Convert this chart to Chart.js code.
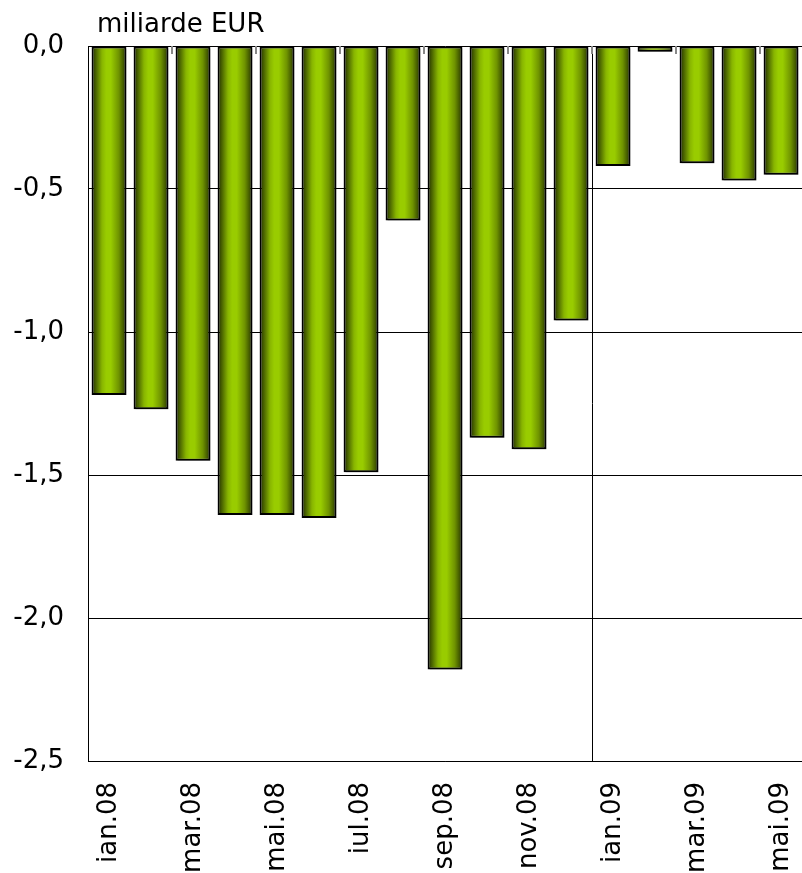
<!DOCTYPE html>
<html>
<head>
<meta charset="utf-8">
<script src="https://cdn.jsdelivr.net/npm/chart.js@4"></script>
<style>
  html, body { margin: 0; padding: 0; background: #fff; }
  #wrap { width: 802px; height: 873px; }
</style>
</head>
<body>
<div id="wrap"><canvas id="myChart" width="802" height="873"></canvas></div>
<script>
// date
const months = ["ian.08", "feb.08", "mar.08", "apr.08", "mai.08", "iun.08", "iul.08", "aug.08",
  "sep.08", "oct.08", "nov.08", "dec.08", "ian.09", "feb.09", "mar.09", "apr.09", "mai.09"];
const balance = [-1.22, -1.27, -1.45, -1.64, -1.64, -1.65, -1.49, -0.61,
  -2.18, -1.37, -1.41, -0.96, -0.42, -0.02, -0.41, -0.47, -0.45];
const yMin = -2.5;
const yMax = 0;
const yStep = 0.5;
const unitLabel = "miliarde EUR";

const FONT = "'DejaVu Sans', sans-serif";
const BAR_PCT = 0.83;

// gradient pe fiecare bara, de la stanga la dreapta
function barGradient(c) {
  const chart = c.chart;
  const xs = chart.scales.x;
  if (!xs || !chart.chartArea) return "#99cc00";
  const cx = xs.getPixelForValue(c.dataIndex);
  const w = (xs.width / months.length) * BAR_PCT;
  const g = chart.ctx.createLinearGradient(cx - w / 2, 0, cx + w / 2, 0);
  g.addColorStop(0, "#1a2400");
  g.addColorStop(0.08, "#3a4f00");
  g.addColorStop(0.3, "#88b500");
  g.addColorStop(0.42, "#99cc00");
  g.addColorStop(0.55, "#99cc00");
  g.addColorStop(0.78, "#6f9300");
  g.addColorStop(0.93, "#3d5200");
  g.addColorStop(1, "#1f2a00");
  return g;
}

// eticheta unitatii, umbra barelor, liniutele de sus
const extras = {
  id: "extras",
  beforeDatasetsDraw(chart) {
    const ctx = chart.ctx;
    ctx.save();
    ctx.shadowColor = "rgba(0,0,0,0.3)";
    ctx.shadowOffsetX = 2;
    ctx.shadowOffsetY = 2;
    ctx.shadowBlur = 0;
  },
  afterDatasetsDraw(chart) {
    const ctx = chart.ctx;
    ctx.restore();
    const xs = chart.scales.x;
    const half = xs.width / months.length / 2;
    ctx.save();
    ctx.strokeStyle = "#888";
    ctx.lineWidth = 2;
    for (let i = 2; i < months.length; i += 2) {
      const x = Math.round(xs.getPixelForValue(i) - half);
      ctx.beginPath();
      ctx.moveTo(x, chart.chartArea.top);
      ctx.lineTo(x, chart.chartArea.top + 8);
      ctx.stroke();
    }
    ctx.restore();
  },
  afterDraw(chart) {
    const ctx = chart.ctx;
    const a = chart.chartArea;
    ctx.save();
    ctx.fillStyle = "#000";
    ctx.font = "26px " + FONT;
    ctx.textAlign = "left";
    ctx.textBaseline = "alphabetic";
    ctx.fillText(unitLabel, a.left + 9, a.top - 14);
    ctx.restore();
  },
};

const config = {
  type: "bar",
  data: {
    labels: months,
    datasets: [
      {
        data: balance,
        backgroundColor: barGradient,
        borderColor: "#000",
        borderWidth: 2,
        borderSkipped: false,
        categoryPercentage: 1,
        barPercentage: BAR_PCT,
      },
    ],
  },
  options: {
    responsive: false,
    animation: false,
    layout: { padding: { top: 46, left: 0, right: 0, bottom: 0 } },
    plugins: {
      legend: { display: false },
      title: { display: false },
      tooltip: { enabled: false },
    },
    scales: {
      x: {
        offset: true,
        grid: {
          offset: true,
          drawTicks: false,
          lineWidth: 1,
          color: (c) => (c.index === 12 ? "#000" : "rgba(0,0,0,0)"),
        },
        border: { display: true, color: "#000", width: 1 },
        ticks: {
          autoSkip: false,
          maxRotation: 90,
          minRotation: 90,
          padding: 21,
          color: "#000",
          font: { family: FONT, size: 26 },
          callback: (v, i) => (i % 2 === 0 ? months[i] : ""),
        },
        afterFit(scale) {
          scale.height = 112;
          scale.paddingLeft = 0;
          scale.paddingRight = 0;
        },
      },
      y: {
        min: yMin,
        max: yMax,
        grid: { color: "#000", lineWidth: 1, drawTicks: false },
        border: { display: true, color: "#000", width: 1 },
        ticks: {
          stepSize: yStep,
          padding: 24,
          color: "#000",
          font: { family: FONT, size: 26 },
          callback: (v) => v.toFixed(1).replace(".", ","),
        },
        afterFit(scale) {
          scale.width = 88;
        },
      },
    },
  },
  plugins: [extras],
};

const ctx = document.getElementById("myChart").getContext("2d");
new Chart(ctx, config);
</script>
</body>
</html>
